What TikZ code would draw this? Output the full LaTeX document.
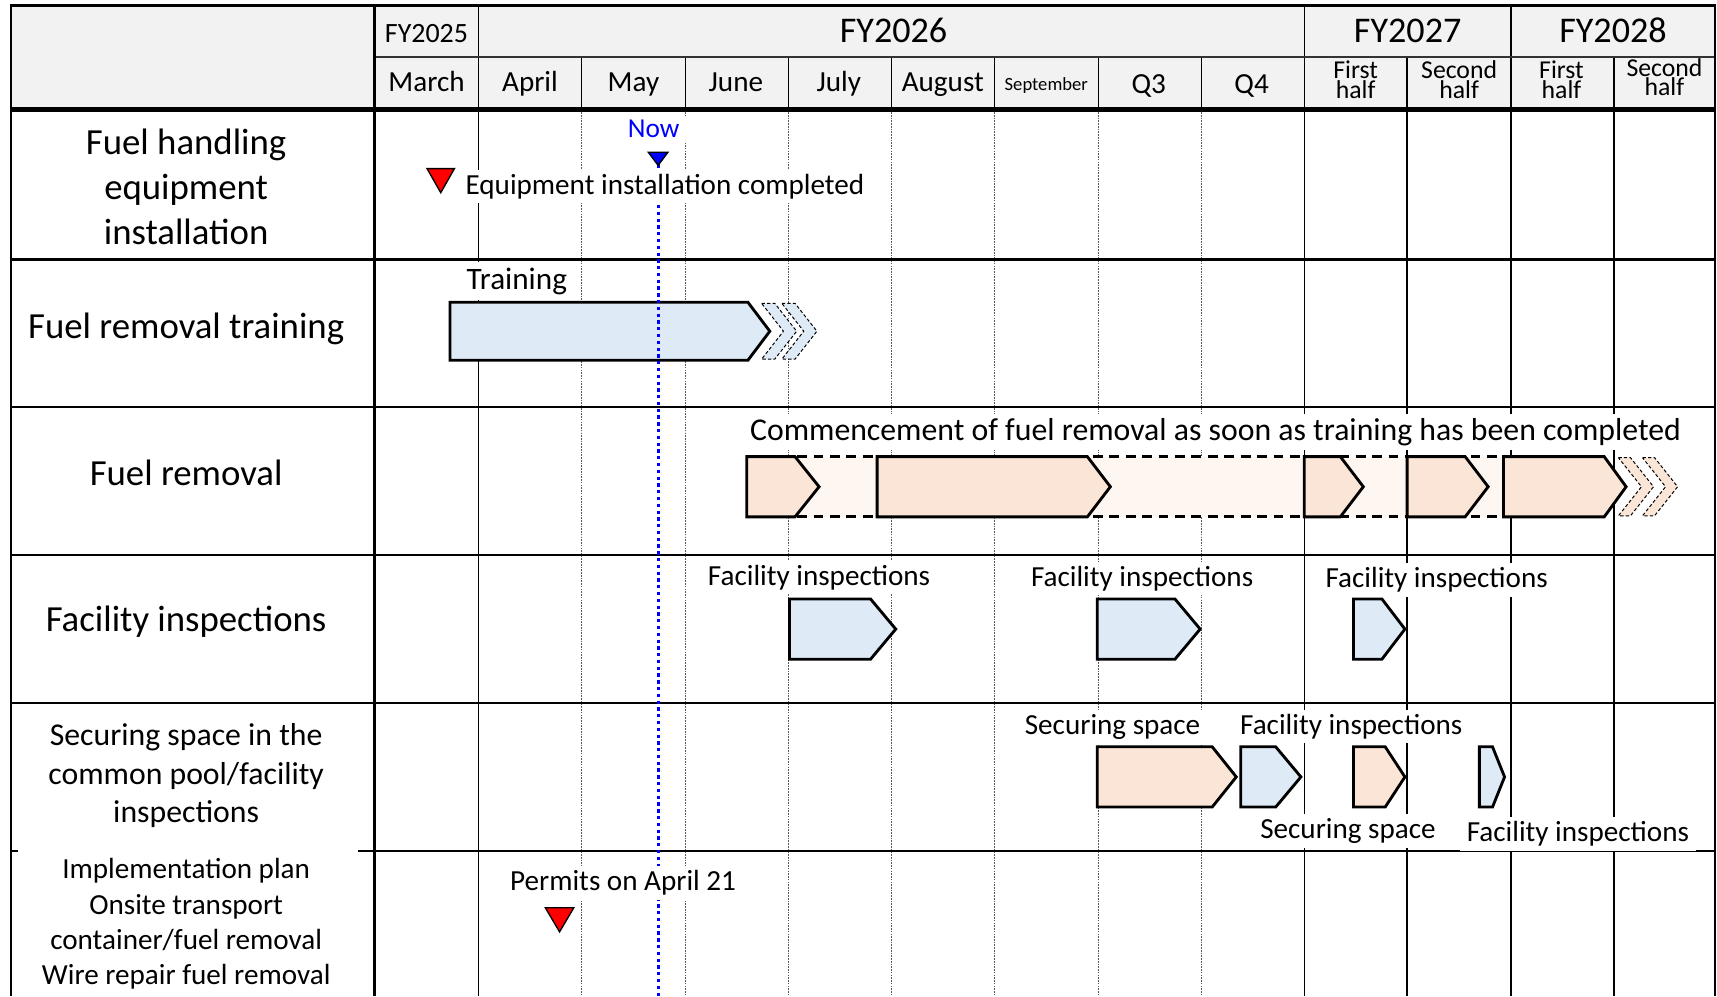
\documentclass[tikz,border=0pt]{standalone}
\usepackage{fontspec}
\setmainfont{Carlito}
\definecolor{hdr}{HTML}{F2F2F2}
\definecolor{lblue}{HTML}{DEEBF7}
\definecolor{lpeach}{HTML}{FBE5D6}
\definecolor{vpeach}{HTML}{FDF6F1}
\definecolor{nowblue}{HTML}{0000FF}
\newcommand\fsz[2]{\fontsize{#1}{#2}\selectfont}
% style, x0, xback, xtip, top, bottom
\newcommand\pentbar[6]{\draw[#1] (#2,#5) -- (#3,#5) -- (#4,{(#5+#6)/2}) -- (#3,#6) -- (#2,#6) -- cycle;}
% style, xa, width, depth, top, bottom
\newcommand\chevshape[6]{\draw[#1] (#2,#5) -- ++(#3,0) -- ++(#4,{(#6-#5)/2}) -- ++(-#4,{(#6-#5)/2}) -- ++(-#3,0) -- ++(#4,{-(#6-#5)/2}) -- cycle;}
\tikzset{
  rowline/.style={line width=2pt},
  solidv/.style={line width=1.2pt},
  dotv/.style={line width=1.1pt, black!65, dash pattern=on 1.5pt off 1pt},
  bar/.style={line width=2.6pt, line join=miter, draw=black},
  bluebar/.style={bar, fill=lblue},
  peachbar/.style={bar, fill=lpeach},
  chevblue/.style={line width=0.9pt, dash pattern=on 3pt off 2pt, fill=lblue},
  chevpeach/.style={line width=0.9pt, dash pattern=on 3pt off 2pt, fill=lpeach},
  lbl/.style={fill=white, inner xsep=6pt, inner ysep=4pt, anchor=base, font=\fsz{26.6}{32}},
  rowlbl/.style={anchor=base, align=center},
  hd/.style={anchor=base, font=\fsz{26.6}{32}},
  hdhalf/.style={anchor=base, align=center, font=\fsz{23.5}{18}},
  hdfy/.style={anchor=base, font=\fsz{33}{40}},
  tri/.style={draw=black, line width=1.2pt, line join=miter},
}
\begin{document}
\begin{tikzpicture}[x=1pt,y=-1pt]
\useasboundingbox (0,0) rectangle (1568,909.6);
% header background
\fill[hdr] (10,5) rectangle (1566,100);
% body vertical lines
\foreach \x in {437,1191,1285,1380,1474} \draw[solidv] (\x,100) -- (\x,909.6);
\foreach \x in {531,626,720,814,908,1003,1097} \draw[dotv] (\x,100) -- (\x,909.6);
% header verticals
\foreach \x in {437,531,626,720,814,908,1003,1097,1191,1285,1380,1474} \draw[solidv] (\x,52) -- (\x,100);
\foreach \x in {437,1191,1380} \draw[solidv] (\x,5) -- (\x,52);
\draw[line width=1.6pt, black!80] (342,52) -- (1566,52);
% outer frame
\draw[rowline] (10,909.6) -- (10,5) -- (1566,5) -- (1566,909.6);
\draw[line width=3pt] (342,5) -- (342,909.6);
\draw[line width=3.8pt] (10,100) -- (1566,100);
\foreach \y in {237,372,507,642} \draw[rowline] (10,\y) -- (1566,\y);
\draw[rowline] (327,777) -- (1566,777);
\draw[rowline] (10,777) -- (16,777);
% header texts
\node[anchor=base, font=\fsz{25.5}{30}] (fy25) at (389.5,38.5) {FY2025};
\node[hdfy] (fy26) at (816,39) {FY2026};
\node[hdfy] (fy27) at (1285.5,39) {FY2027};
\node[hdfy] (fy28) at (1473,39) {FY2028};
\node[hd] (mmar) at (389.5,83.5) {March};
\node[hd] (mapr) at (484,83.5) {April};
\node[hd] (mmay) at (578.5,83.5) {May};
\node[hd] (mjun) at (672,83.5) {June};
\node[hd] (mjul) at (766,83.5) {July};
\node[hd] (maug) at (861,83.5) {August};
\node[anchor=base, font=\fsz{17}{20}] (msep) at (955.5,82.5) {September};
\node[hd] (mq3) at (1049,85) {Q3};
\node[hd] (mq4) at (1143,85) {Q4};
\node[hdhalf] (h27a) at (1238,89.5) {First\\half};
\node[hdhalf] (h27b) at (1332.5,89.5) {Second\\half};
\node[hdhalf] (h28a) at (1426,89.5) {First\\half};
\node[hdhalf] (h28b) at (1520,87.5) {Second\\half};
% row labels
\node[rowlbl, font=\fsz{33.6}{41}] (l1) at (170,223) {Fuel handling\\equipment\\installation};
\node[rowlbl, font=\fsz{33.6}{41}] (l2) at (170,309) {Fuel removal training};
\node[rowlbl, font=\fsz{33.6}{41}] (l3) at (170,443) {Fuel removal};
\node[rowlbl, font=\fsz{33.6}{41}] (l4) at (170,577) {Facility inspections};
\node[rowlbl, font=\fsz{29}{35}] (l5) at (170,751) {Securing space in the\\common pool/facility\\inspections};
\node[rowlbl, font=\fsz{26.6}{32.3}] (l6) at (170,899.5) {Implementation plan\\Onsite transport\\container/fuel removal\\Wire repair fuel removal};
% training bar
\pentbar{bluebar}{411}{683}{703}{276}{329}
\chevshape{chevblue}{695.5}{12}{20}{277}{328}
\chevshape{chevblue}{714}{12}{20}{277}{328}
% fuel removal band
\fill[vpeach] (700,417) rectangle (1380,472);
\draw[line width=2.6pt, dash pattern=on 9pt off 6pt] (728,417) -- (1372,417);
\draw[line width=2.6pt, dash pattern=on 9pt off 6pt] (728,472) -- (1372,472);
\pentbar{peachbar}{682}{726}{748}{417}{472}
\pentbar{peachbar}{801}{993}{1014}{417}{472}
\pentbar{peachbar}{1191}{1224}{1245}{417}{472}
\pentbar{peachbar}{1285}{1338}{1359}{417}{472}
\pentbar{peachbar}{1373}{1465}{1485}{417}{472}
\chevshape{chevpeach}{1478}{11}{21}{418}{471}
\chevshape{chevpeach}{1500}{11}{21}{418}{471}
% facility inspections row
\pentbar{bluebar}{721}{795}{818}{547}{602}
\pentbar{bluebar}{1002}{1073}{1096}{547}{602}
\pentbar{bluebar}{1236}{1262}{1283}{547}{602}
% securing space row
\pentbar{peachbar}{1002}{1107}{1129}{682}{737}
\pentbar{bluebar}{1133}{1165}{1188}{682}{737}
\pentbar{peachbar}{1236}{1265}{1283}{682}{737}
\pentbar{bluebar}{1351}{1363}{1374}{682}{737}
% now line
\coordinate (nowtop) at (601,150);
\coordinate (nowbot) at (601,909.6);
\draw[nowblue, line width=2.6pt, dash pattern=on 3pt off 3.2pt] (nowtop) -- (nowbot);
% labels
\node[lbl, font=\fsz{25}{30}, text=nowblue, inner xsep=17pt] (now) at (597,126) {Now};
\node[lbl, anchor=base west, inner xsep=4pt] (equip) at (421,177.5) {Equipment installation completed};
\node[lbl, font=\fsz{28.5}{34}, inner xsep=9pt, inner ysep=5pt] (train) at (472,264) {Training};
\node[lbl, font=\fsz{29}{35}] (comm) at (1110,402) {Commencement of fuel removal as soon as training has been completed};
\node[lbl] (fi1) at (748,534.5) {Facility inspections};
\node[lbl] (fi2) at (1043,535.5) {Facility inspections};
\node[lbl] (fi3) at (1312,536.5) {Facility inspections};
\node[lbl] (ss1) at (1016,670.5) {Securing space};
\node[lbl] (fi4) at (1234,670.5) {Facility inspections};
\node[lbl] (ss2) at (1231,765.5) {Securing space};
\node[lbl] (fi5) at (1441,768.5) {Facility inspections};
\node[lbl] (perm) at (569,813.5) {Permits on April 21};
% triangles
\draw[tri, fill=nowblue] (592,139) -- (610,139) -- (601,151) -- cycle;
\draw[tri, fill=red] (390,154) -- (415,154) -- (402.5,176) -- cycle;
\draw[tri, fill=red] (498,829) -- (524,829) -- (511,851) -- cycle;
\end{tikzpicture}
\end{document}
